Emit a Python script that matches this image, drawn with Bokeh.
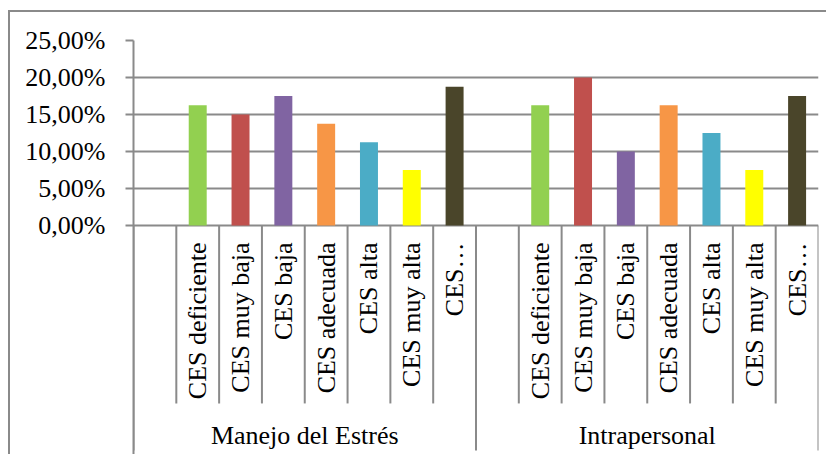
import math
from bokeh.plotting import figure
from bokeh.models import (ColumnDataSource, FactorRange, Range1d, FixedTicker,
                          CustomJSTickFormatter)
from bokeh.core.properties import value
from bokeh.embed import file_html
from bokeh.resources import INLINE

# ---- data ----
groups = ["Manejo del Estrés", "Intrapersonal"]
categories = [" ", "CES deficiente", "CES muy baja", "CES baja", "CES adecuada",
              "CES alta", "CES muy alta", "CES…"]
bar_categories = categories[1:]
values_manejo = [16.25, 15.0, 17.5, 13.75, 11.25, 7.5, 18.75]
values_intrapersonal = [16.25, 20.0, 10.0, 16.25, 12.5, 7.5, 17.5]
colors = ["#92D050", "#C0504D", "#8064A2", "#F79646", "#4BACC6", "#FFFF00", "#4A452A"]
y_ticks = [0, 5, 10, 15, 20, 25]

FONT = "Liberation Serif"
GRAY = "#8a8a8a"

factors = [(g, c) for g in groups for c in categories]
x_range = FactorRange(factors=factors, range_padding=0, factor_padding=0,
                      group_padding=0)

# screen layout: 0 at ~225px, 25% at 40px, frame bottom at 456px -> 7.4 px per %
y_range = Range1d(-31.22, 25)

p = figure(width=818, height=444, x_range=x_range, y_range=y_range,
           output_backend="svg", toolbar_location=None, x_axis_location=None,
           min_border_left=123, min_border_right=10, min_border_top=28,
           min_border_bottom=0)
p.styles = {"border-top": f"2px solid {GRAY}", "border-left": f"2px solid {GRAY}",
            "margin-left": "8px", "margin-top": "10px"}
p.outline_line_color = None
p.background_fill_color = "white"
p.border_fill_color = "white"

# bars
bx, btop, bcol = [], [], []
for g, vals in zip(groups, [values_manejo, values_intrapersonal]):
    for c, v, col in zip(bar_categories, vals, colors):
        bx.append((g, c))
        btop.append(v)
        bcol.append(col)
src = ColumnDataSource(dict(x=bx, top=btop, color=bcol))
p.vbar(x="x", top="top", width=0.42, fill_color="color", line_color=None, source=src)

# y axis
yax = p.yaxis[0]
yax.ticker = FixedTicker(ticks=y_ticks)
yax.formatter = CustomJSTickFormatter(code="return tick.toFixed(2).replace('.', ',') + '%';")
yax.axis_line_color = GRAY
yax.axis_line_width = 2
yax.major_tick_line_color = GRAY
yax.major_tick_line_width = 2
yax.major_tick_out = 8
yax.major_tick_in = 0
yax.minor_tick_line_color = None
yax.major_label_standoff = 20
yax.major_label_text_font = FONT
yax.major_label_text_font_size = "26px"
yax.major_label_text_color = "black"

p.xgrid.visible = False
p.ygrid.ticker = FixedTicker(ticks=y_ticks)
p.ygrid.grid_line_color = GRAY
p.ygrid.grid_line_width = 2

# category separators (table-like x axis)
sx, sy1 = [], []
for g in groups:
    for c in categories[1:]:
        sx.append((g, c, -0.5))
        sy1.append(-24.05)
    sx.append((g, categories[0], -0.5))
    sy1.append(-30.4)
sx.append((groups[-1], categories[-1], 0.5))
sy1.append(-30.4)
sep = ColumnDataSource(dict(x=sx, y0=[0] * len(sx), y1=sy1))
p.segment(x0="x", y0="y0", x1="x", y1="y1", line_color=GRAY, line_width=2, source=sep)

# category labels
lx, lt = [], []
for g in groups:
    for c in bar_categories:
        lx.append((g, c))
        lt.append(c)
lab = ColumnDataSource(dict(x=lx, y=[0] * len(lx), t=lt))
p.text(x="x", y="y", text="t", source=lab, angle=math.pi / 2, text_align="right",
       text_baseline="middle", y_offset=17, text_font=value(FONT),
       text_font_size="26px", text_color="black")

# group labels
glab = ColumnDataSource(dict(x=groups, y=[0] * len(groups), t=groups))
p.text(x="x", y="y", text="t", source=glab, text_align="center",
       text_baseline="alphabetic", y_offset=210, text_font=value(FONT),
       text_font_size="26px", text_color="black")

open("out.html", "w").write(file_html(p, INLINE))
